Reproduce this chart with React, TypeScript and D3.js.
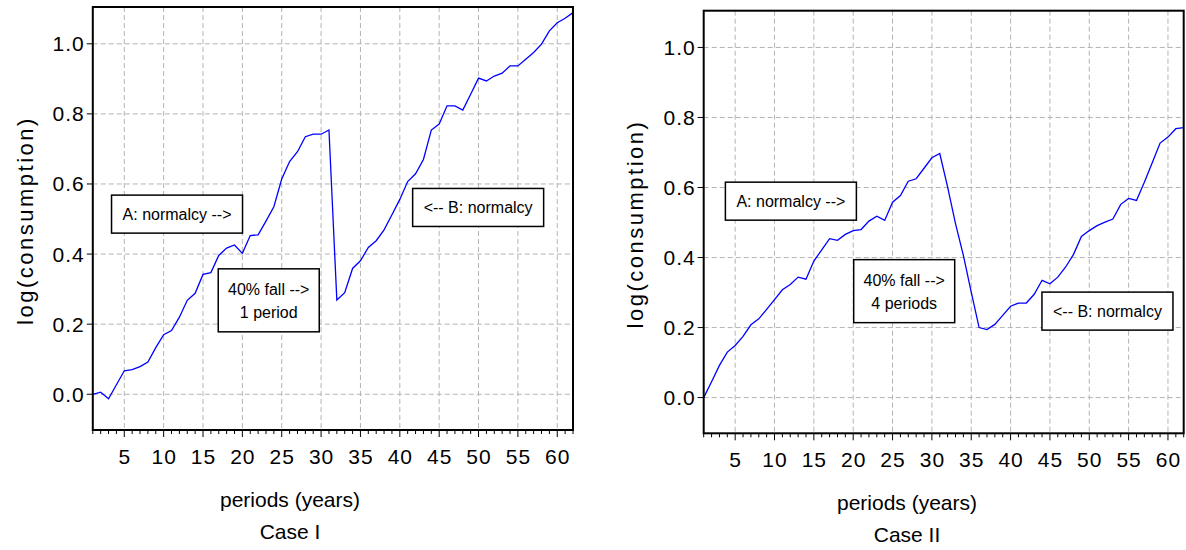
import React, { useRef, useEffect } from 'react';
import * as d3 from 'd3';

// period index 1..62 (x categories)
const periods = d3.range(1, 63);

// log(consumption), Case I: one-period 40% fall at t=32
const caseOne = [
  0.000, 0.006, -0.013, 0.027, 0.067, 0.070, 0.079, 0.092, 0.133, 0.170,
  0.182, 0.220, 0.268, 0.288, 0.342, 0.347, 0.396, 0.417, 0.426, 0.402,
  0.453, 0.455, 0.494, 0.535, 0.614, 0.664, 0.692, 0.735, 0.742, 0.742,
  0.754, 0.269, 0.290, 0.359, 0.381, 0.419, 0.438, 0.469, 0.512, 0.556,
  0.607, 0.629, 0.670, 0.754, 0.771, 0.823, 0.823, 0.811, 0.856, 0.902,
  0.894, 0.908, 0.916, 0.937, 0.937, 0.956, 0.975, 0.999, 1.037, 1.060,
  1.073, 1.089,
];

// log(consumption), Case II: same fall spread over 4 periods
const caseTwo = [
  0.000, 0.045, 0.092, 0.130, 0.149, 0.175, 0.208, 0.225, 0.252, 0.280,
  0.308, 0.323, 0.344, 0.338, 0.390, 0.422, 0.454, 0.449, 0.466, 0.477,
  0.480, 0.504, 0.518, 0.506, 0.558, 0.577, 0.618, 0.625, 0.655, 0.685,
  0.697, 0.601, 0.497, 0.406, 0.301, 0.200, 0.194, 0.209, 0.235, 0.261,
  0.270, 0.270, 0.295, 0.335, 0.325, 0.344, 0.373, 0.409, 0.460, 0.477,
  0.491, 0.501, 0.510, 0.552, 0.569, 0.563, 0.615, 0.671, 0.727, 0.744,
  0.768, 0.771,
];

const xTicks = [5, 10, 15, 20, 25, 30, 35, 40, 45, 50, 55, 60];
const yTicks = [0.0, 0.2, 0.4, 0.6, 0.8, 1.0];

const xTitle = 'periods (years)';
const yTitle = 'log(consumption)';
const caseTitles = ['Case I', 'Case II'];

const notesOne = [['A: normalcy -->'], ['40% fall -->', '1 period'], ['<-- B: normalcy']];
const notesTwo = [['A: normalcy -->'], ['40% fall -->', '4 periods'], ['<-- B: normalcy']];

const FONT = "'Liberation Sans', Arial, sans-serif";

const panels = [
  {
    values: caseOne,
    notes: notesOne,
    title: caseTitles[0],
    box: { left: 92.8, top: 7, right: 573, bottom: 430 },
    yTitleX: 25,
    titleX: 290,
    // note anchors in data units (period, value) + box size in px
    noteAt: [
      { p: 11.7, v: 0.514, w: 131, h: 38 },
      { p: 23.35, v: 0.268, w: 101, h: 63 },
      { p: 49.95, v: 0.533, w: 131, h: 38 },
    ],
  },
  {
    values: caseTwo,
    notes: notesTwo,
    title: caseTitles[1],
    box: { left: 703.7, top: 10.7, right: 1183.7, bottom: 433.3 },
    yTitleX: 635,
    titleX: 907,
    noteAt: [
      { p: 12.08, v: 0.561, w: 131, h: 38 },
      { p: 26.48, v: 0.304, w: 101, h: 63 },
      { p: 52.31, v: 0.247, w: 131, h: 38 },
    ],
  },
];

const drawPanel = (svg, cfg) => {
  const { box } = cfg;
  const g = svg.append('g');

  const x = d3.scaleLinear().domain([1, 62]).range([box.left, box.right]);
  const y = d3.scaleLinear().domain([-0.102, 1.105]).range([box.bottom, box.top]);

  // grid
  g.selectAll('.vgrid')
    .data(xTicks)
    .enter().append('line')
    .attr('x1', d => x(d)).attr('x2', d => x(d))
    .attr('y1', box.top).attr('y2', box.bottom)
    .attr('stroke', '#b4b4b4').attr('stroke-width', 1)
    .attr('stroke-dasharray', '5,3');

  g.selectAll('.hgrid')
    .data(yTicks)
    .enter().append('line')
    .attr('x1', box.left).attr('x2', box.right)
    .attr('y1', d => y(d)).attr('y2', d => y(d))
    .attr('stroke', '#b4b4b4').attr('stroke-width', 1)
    .attr('stroke-dasharray', '5,3');

  // series
  const line = d3.line()
    .x((d, i) => x(periods[i]))
    .y(d => y(d));

  g.append('path')
    .datum(cfg.values)
    .attr('d', line)
    .attr('fill', 'none')
    .attr('stroke', '#0000ff')
    .attr('stroke-width', 1.3);

  // frame
  g.append('rect')
    .attr('x', box.left).attr('y', box.top)
    .attr('width', box.right - box.left).attr('height', box.bottom - box.top)
    .attr('fill', 'none').attr('stroke', '#000').attr('stroke-width', 2);

  // x ticks: minor every period, major every 5
  g.selectAll('.xtick')
    .data(periods)
    .enter().append('line')
    .attr('x1', d => x(d)).attr('x2', d => x(d))
    .attr('y1', box.bottom)
    .attr('y2', d => box.bottom + (d % 5 === 0 ? 7 : 4))
    .attr('stroke', '#000').attr('stroke-width', 1);

  g.selectAll('.xlabel')
    .data(xTicks)
    .enter().append('text')
    .attr('x', d => x(d) + 0.5)
    .attr('y', box.bottom + 34)
    .attr('text-anchor', 'middle')
    .attr('font-family', FONT).attr('font-size', 21)
    .attr('letter-spacing', 1)
    .text(d => d);

  // y ticks
  g.selectAll('.ytick')
    .data(yTicks)
    .enter().append('line')
    .attr('x1', box.left - 6).attr('x2', box.left)
    .attr('y1', d => y(d)).attr('y2', d => y(d))
    .attr('stroke', '#000').attr('stroke-width', 1);

  g.selectAll('.ylabel')
    .data(yTicks)
    .enter().append('text')
    .attr('x', box.left - 8)
    .attr('y', d => y(d) + 7.5)
    .attr('text-anchor', 'end')
    .attr('font-family', FONT).attr('font-size', 21)
    .attr('letter-spacing', 1)
    .text(d => d3.format('.1f')(d));

  // axis titles
  const midY = (box.top + box.bottom) / 2 + 2;
  g.append('text')
    .attr('transform', `translate(${cfg.yTitleX + 8},${midY}) rotate(-90)`)
    .attr('text-anchor', 'middle')
    .attr('font-family', FONT).attr('font-size', 22)
    .attr('letter-spacing', 2.5)
    .text(yTitle);

  g.append('text')
    .attr('x', cfg.titleX).attr('y', box.bottom + 77)
    .attr('text-anchor', 'middle')
    .attr('font-family', FONT).attr('font-size', 21)
    .text(xTitle);

  g.append('text')
    .attr('x', cfg.titleX).attr('y', box.bottom + 109)
    .attr('text-anchor', 'middle')
    .attr('font-family', FONT).attr('font-size', 21)
    .text(cfg.title);

  // annotation boxes
  cfg.notes.forEach((lines, i) => {
    const a = cfg.noteAt[i];
    const cx = x(a.p);
    const cy = y(a.v);
    g.append('rect')
      .attr('x', cx - a.w / 2).attr('y', cy - a.h / 2)
      .attr('width', a.w).attr('height', a.h)
      .attr('fill', '#fff').attr('stroke', '#000').attr('stroke-width', 1.5);
    const lh = 23;
    lines.forEach((t, j) => {
      g.append('text')
        .attr('x', cx)
        .attr('y', cy + (j - (lines.length - 1) / 2) * lh + 6)
        .attr('text-anchor', 'middle')
        .attr('font-family', FONT).attr('font-size', 16)
        .text(t);
    });
  });
};

const App = () => {
  const chartRef = useRef(null);

  useEffect(() => {
    const svg = d3.select(chartRef.current);
    svg.selectAll('*').remove();
    panels.forEach(p => drawPanel(svg, p));
  }, []);

  return (
    <svg
      ref={chartRef}
      width="1186"
      height="550"
      style={{ position: 'absolute', left: 0, top: 0, background: '#fff' }}
    ></svg>
  );
};

export default App;
